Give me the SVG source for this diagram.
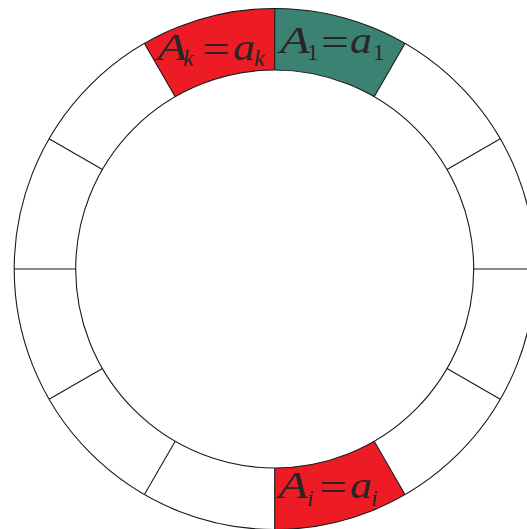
<svg xmlns="http://www.w3.org/2000/svg" width="527" height="529" viewBox="0 0 527 529">
<style>
.red{fill:#ED1C24;stroke:none}
.green{fill:#3B8272;stroke:none}
.ln{fill:none;stroke:#1a1a1a;stroke-width:1.1}
.m{font-family:"Liberation Serif",serif;font-style:italic;font-size:38px;fill:#2a2526}
.r{font-family:"Liberation Serif",serif;font-size:38px;fill:#2a2526}
.s{font-family:"Liberation Serif",serif;font-style:italic;font-size:24px;fill:#2a2526}
.sr{font-family:"Liberation Serif",serif;font-size:23px;fill:#2a2526}
</style>
<rect width="527" height="529" fill="#fff"/>
<g id="seg-A1">
<path class="green" d="M404.95 43.4 A260.5 260.5 0 0 0 274.7 8.5 L274.7 70 A199 199 0 0 1 374.2 96.7 Z"/>
<text class="m" x="280" y="53" textLength="30" lengthAdjust="spacingAndGlyphs">A</text>
<text class="sr" x="307" y="60">1</text>
<text class="r" x="321" y="55" textLength="28" lengthAdjust="spacingAndGlyphs">=</text>
<text class="m" x="350" y="53" textLength="22" lengthAdjust="spacingAndGlyphs">a</text>
<text class="sr" x="373" y="60">1</text>
</g>
<g id="seg-Ak">
<path class="red" d="M274.7 8.5 A260.5 260.5 0 0 0 144.45 43.4 L175.2 96.7 A199 199 0 0 1 274.7 70 Z"/>
<text class="m" x="157" y="60" textLength="30" lengthAdjust="spacingAndGlyphs">A</text>
<text class="s" x="183" y="66">k</text>
<text class="r" x="202" y="62" textLength="28" lengthAdjust="spacingAndGlyphs">=</text>
<text class="m" x="233" y="60" textLength="22" lengthAdjust="spacingAndGlyphs">a</text>
<text class="s" x="254" y="66">k</text>
</g>
<g id="seg-Ai">
<path class="red" d="M274.7 529.5 A260.5 260.5 0 0 0 404.95 494.6 L374.2 441.3 A199 199 0 0 1 274.7 468 Z"/>
<text class="m" x="278" y="498" textLength="30" lengthAdjust="spacingAndGlyphs">A</text>
<text class="s" x="307" y="506">i</text>
<text class="r" x="319" y="500" textLength="28" lengthAdjust="spacingAndGlyphs">=</text>
<text class="m" x="350" y="498" textLength="22" lengthAdjust="spacingAndGlyphs">a</text>
<text class="s" x="371" y="506">i</text>
</g>
<g id="ring">
<circle class="ln" cx="274.7" cy="269" r="260.5"/>
<circle class="ln" cx="274.7" cy="269" r="199"/>
</g>
<g id="connectors" class="ln">
<line x1="473.7" y1="269" x2="535.2" y2="269"/>
<line x1="447.0" y1="169.5" x2="500.3" y2="138.75"/>
<line x1="374.2" y1="96.7" x2="404.95" y2="43.4"/>
<line x1="274.7" y1="70" x2="274.7" y2="8.5"/>
<line x1="175.2" y1="96.7" x2="144.45" y2="43.4"/>
<line x1="102.4" y1="169.5" x2="49.1" y2="138.75"/>
<line x1="75.7" y1="269" x2="14.2" y2="269"/>
<line x1="102.4" y1="368.5" x2="49.1" y2="399.25"/>
<line x1="175.2" y1="441.3" x2="144.45" y2="494.6"/>
<line x1="274.7" y1="468" x2="274.7" y2="529.5"/>
<line x1="374.2" y1="441.3" x2="404.95" y2="494.6"/>
<line x1="447.0" y1="368.5" x2="500.3" y2="399.25"/>
</g>
</svg>
